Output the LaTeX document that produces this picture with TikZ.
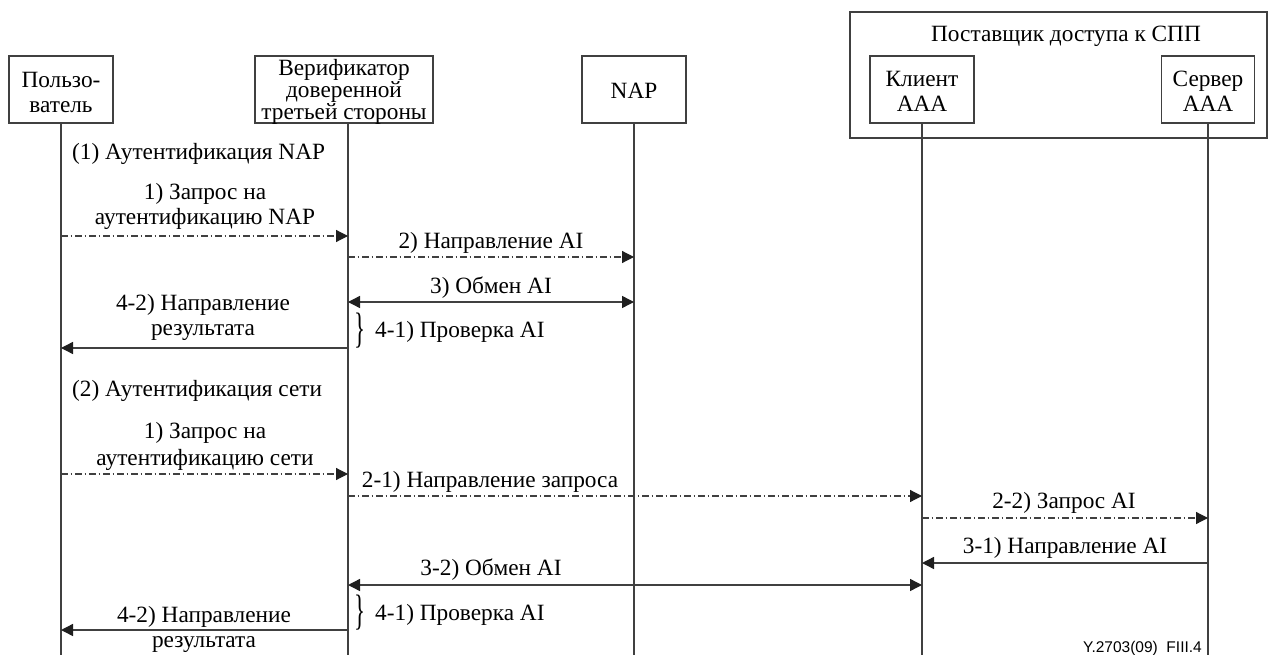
\documentclass[tikz,border=0pt]{standalone}
\usepackage{fontspec}
\setmainfont{Liberation Serif}
\newfontfamily\figsans{Liberation Sans}
\usetikzlibrary{arrows.meta}
\definecolor{ln}{gray}{0.25}
\definecolor{tip}{gray}{0.12}
\begin{document}
\begin{tikzpicture}[x=1pt,y=-1pt,
  >={Triangle[length=12pt,width=12pt,fill=tip,color=tip]},
  every node/.style={font=\fontsize{23.3}{25}\selectfont, inner sep=0pt},
  box/.style={draw=ln, line width=1.2pt, minimum height=67pt},
  btxt/.style={align=center},
  life/.style={draw=ln, line width=1.2pt},
  sol/.style={draw=ln, line width=1.4pt, ->},
  both/.style={draw=ln, line width=1.4pt, <->},
  dd/.style={draw=ln, line width=1.2pt, ->, dash pattern=on 6.5pt off 3pt on 1.5pt off 3pt},
  lbl/.style={anchor=base},
  lbw/.style={anchor=base west},
  brc/.style={font=\fontsize{23}{25}\selectfont},
]
\useasboundingbox (0,0) rectangle (1271,655);

% participants
\node[box, minimum width=104pt] (u) at (61,89.5) {};
\node[btxt] (ut) at ([yshift=-3pt]u.center) {Пользо-\\ватель};
\node[box, minimum width=178pt] (v) at (344,89.5) {};
\node[btxt, font=\fontsize{23.3}{20.5}\selectfont] (vt) at ([yshift=-2.5pt]v.center) {Верификатор\\доверенной\\третьей стороны};
\node[box, minimum width=104pt] (n) at (634,89.5) {};
\node[btxt] (nt) at ([yshift=-1pt]n.center) {NAP};
\node[draw=ln, line width=1.2pt, minimum width=417pt, minimum height=126pt] (g) at (1058.5,75) {};
\node[lbl] (gt) at (1066,42) {Поставщик доступа к СПП};
\node[box, minimum width=104pt] (k) at (922,89.5) {};
\node[btxt] (kt) at ([yshift=-2pt]k.center) {Клиент\\AAA};
\node[box, minimum width=93pt] (s) at (1208,89.5) {};
\node[btxt] (st) at ([yshift=-2pt]s.center) {Сервер\\AAA};

% lifelines
\coordinate (Lu) at (61,655);
\coordinate (Lv) at (348,655);
\coordinate (Ln) at (634,655);
\coordinate (Lk) at (922,655);
\coordinate (Ls) at (1208,655);
\draw[life] (u.south -| Lu) -- (Lu);
\draw[life] (v.south -| Lv) -- (Lv);
\draw[life] (n.south -| Ln) -- (Ln);
\draw[life] (k.south -| Lk) -- (Lk);
\draw[life] (s.south -| Ls) -- (Ls);

% (1) NAP authentication
\node[lbw] (h1) at (72,160) {(1) Аутентификация NAP};
\node[lbl] (a1) at (205,200) {1) Запрос на};
\node[lbl] (a1b) at (205,225) {аутентификацию NAP};
\draw[dd] (Lu |- 0,236) -- (Lv |- 0,236);
\node[lbl] (a2) at (491,248) {2) Направление AI};
\draw[dd] (Lv |- 0,257) -- (Ln |- 0,257);
\node[lbl] (a3) at (491,293) {3) Обмен AI};
\draw[both] (Lv |- 0,302) -- (Ln |- 0,302);
\node[brc] (b1) at (360,331) {\scalebox{1}[1.85]{\}}};
\node[lbw] (a41) at (375,337) {4-1) Проверка AI};
\node[lbl] (a42) at (203,310) {4-2) Направление};
\node[lbl] (a42b) at (203,335) {результата};
\draw[sol] (Lv |- 0,348) -- (Lu |- 0,348);

% (2) network authentication
\node[lbw] (h2) at (72,396) {(2) Аутентификация сети};
\node[lbl] (c1) at (205,438) {1) Запрос на};
\node[lbl] (c1b) at (205,465) {аутентификацию сети};
\draw[dd] (Lu |- 0,474) -- (Lv |- 0,474);
\node[lbl] (c21) at (490,487) {2-1) Направление запроса};
\draw[dd] (Lv |- 0,496) -- (Lk |- 0,496);
\node[lbl] (c22) at (1064,508) {2-2) Запрос AI};
\draw[dd] (Lk |- 0,518) -- (Ls |- 0,518);
\node[lbl] (c31) at (1065,553) {3-1) Направление AI};
\draw[sol] (Ls |- 0,563) -- (Lk |- 0,563);
\node[lbl] (c32) at (491,575) {3-2) Обмен AI};
\draw[both] (Lv |- 0,585) -- (Lk |- 0,585);
\node[brc] (b2) at (360,613) {\scalebox{1}[1.85]{\}}};
\node[lbw] (c41) at (375,620) {4-1) Проверка AI};
\node[lbl] (c42) at (204,622) {4-2) Направление};
\node[lbl] (c42b) at (204,647) {результата};
\draw[sol] (Lv |- 0,630) -- (Lu |- 0,630);

\node[anchor=base east, font=\figsans\fontsize{15.5}{17}\selectfont] (fig) at (1202,652) {Y.2703(09)\ \ FIII.4};
\end{tikzpicture}
\end{document}
